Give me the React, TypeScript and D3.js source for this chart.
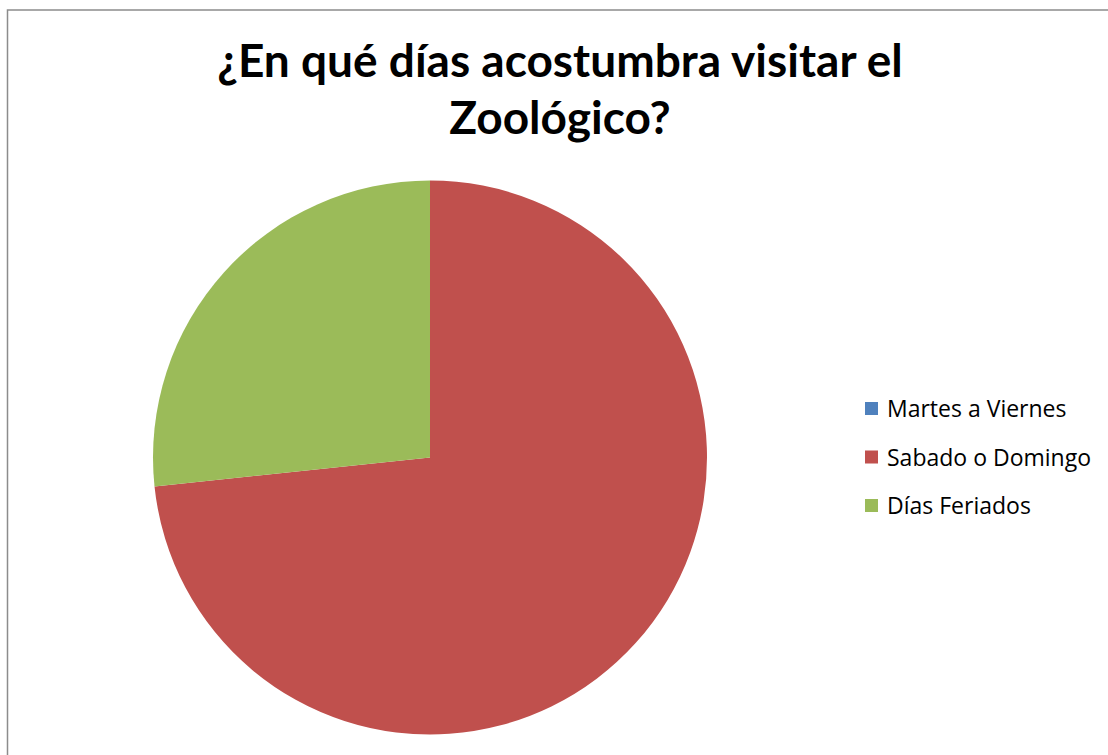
import { useMemo } from "react";
import * as d3 from "d3";

// Pie "¿En qué días acostumbra visitar el Zoológico?"
const categories = ["Martes a Viernes", "Sabado o Domingo", "Días Feriados"];
const values = [0, 22, 8];
const colors = ["#4F81BD", "#C0504D", "#9BBB59"];
const titleLines = ["¿En qué días acostumbra visitar el", "Zoológico?"];

const W = 1108;
const H = 755;
const CX = 430;
const CY = 457.5;
const R = 277;
const TITLE_FONT = "Lato, 'Open Sans', sans-serif";
const LEGEND_FONT = "'Open Sans', Lato, sans-serif";

export default function App() {
  const arcs = useMemo(() => {
    const pie = d3
      .pie<number>()
      .sort(null)
      .value((d) => d)(values);
    const arc = d3.arc<d3.PieArcDatum<number>>().innerRadius(0).outerRadius(R);
    return pie.map((p, i) => ({ d: arc(p) ?? "", color: colors[i], v: p.value }));
  }, []);

  const legendY = d3
    .scalePoint<string>()
    .domain(categories)
    .range([409, 506]);

  return (
    <svg
      width={W}
      height={H}
      style={{ position: "absolute", left: 0, top: 0, background: "#fff" }}
    >
      <rect x={7.5} y={10} width={W + 10} height={H + 10} fill="#fff" stroke="#8c8c8c" strokeWidth={1.5} />
      {titleLines.map((t, i) => (
        <text
          key={t}
          x={560}
          y={77 + i * 57}
          textAnchor="middle"
          fontFamily={TITLE_FONT}
          fontWeight="bold"
          fontSize={46}
          fill="#000"
        >
          {t}
        </text>
      ))}
      <g transform={`translate(${CX},${CY})`}>
        {arcs
          .filter((a) => a.v > 0)
          .map((a, i) => (
            <path key={i} d={a.d} fill={a.color} />
          ))}
      </g>
      {categories.map((c, i) => {
        const y = legendY(c) ?? 0;
        return (
          <g key={c}>
            <rect x={865} y={y - 7} width={13} height={13} fill={colors[i]} />
            <text x={887} y={y} dy="0.36em" fontFamily={LEGEND_FONT} fontSize={23} fill="#000">
              {c}
            </text>
          </g>
        );
      })}
    </svg>
  );
}
